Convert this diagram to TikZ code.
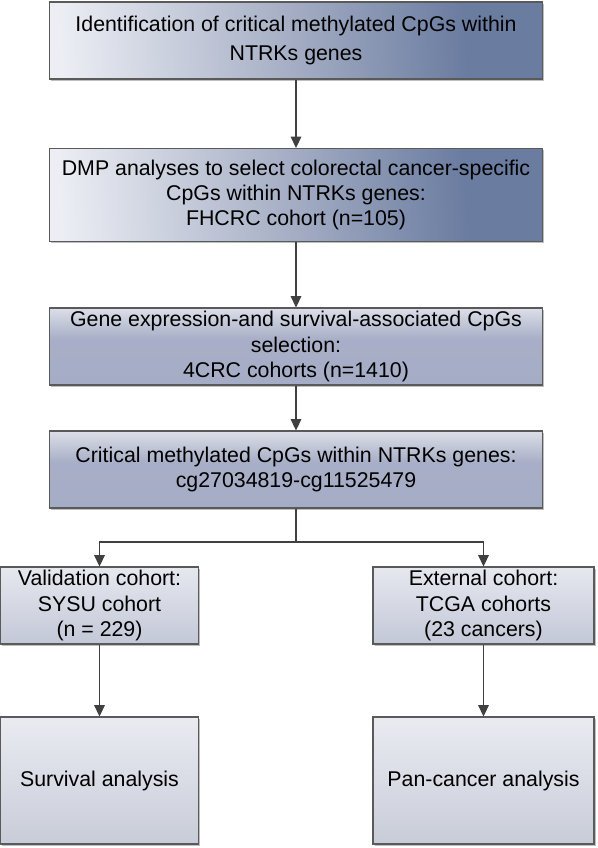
\documentclass[tikz,border=0pt]{standalone}
\usepackage{fontspec}
\setmainfont{Liberation Sans}
\usetikzlibrary{arrows.meta,shadows}
\definecolor{lightA}{HTML}{ECEEF4}
\definecolor{darkA}{HTML}{6A7CA0}
\definecolor{midA}{HTML}{A3ACC3}
\definecolor{topB}{HTML}{DCDFE8}
\definecolor{botB}{HTML}{A5ACC5}
\definecolor{topC}{HTML}{E6E8EF}
\definecolor{botC}{HTML}{C3C8D7}
\definecolor{topD}{HTML}{EAEBF1}
\definecolor{midD}{HTML}{D9DCE5}
\definecolor{botD}{HTML}{C8CCD8}
\definecolor{edge}{HTML}{5A5A5A}
\definecolor{arrowc}{HTML}{404040}
\pgfdeclarehorizontalshading{gradA}{100bp}{color(0bp)=(lightA); color(25bp)=(lightA); color(50bp)=(midA); color(68bp)=(darkA); color(100bp)=(darkA)}
\pgfdeclareverticalshading{gradB}{100bp}{color(0bp)=(botB); color(25bp)=(botB); color(55bp)=(botB!95!topB); color(75bp)=(topB); color(100bp)=(topB)}
\pgfdeclareverticalshading{gradC}{100bp}{color(0bp)=(botC); color(25bp)=(botC); color(75bp)=(topC); color(100bp)=(topC)}
\pgfdeclareverticalshading{gradD}{100bp}{color(0bp)=(botD); color(25bp)=(botD); color(50bp)=(midD); color(75bp)=(topD); color(100bp)=(topD)}
\tikzset{
  box/.style={draw=edge, line width=0.8pt, rectangle, align=center, inner sep=0pt,
    font=\fontsize{16}{19}\selectfont,
    drop shadow={shadow xshift=1.2pt, shadow yshift=-1.2pt, fill=black, opacity=0.25}},
  boxA/.style={box, shading=gradA, shading angle=3},
  boxB/.style={box, shading=gradB},
  boxC/.style={box, shading=gradC},
  boxD/.style={box, shading=gradD},
  arr/.style={draw=arrowc, line width=0.8pt, -{Triangle[length=8.5pt,width=8pt]}},
  ln/.style={draw=arrowc, line width=0.8pt}
}
\begin{document}
\begin{tikzpicture}[x=0.75pt, y=-0.75pt]
\useasboundingbox (0,0) rectangle (598,848);
\node[boxA, minimum width=370pt, minimum height=57.75pt, font=\fontsize{16}{21.4}\selectfont] (b1) at (296,40.5)
  {Identification of critical methylated CpGs within\\NTRKs genes};
\node[boxA, minimum width=370pt, minimum height=69.75pt] (b2) at (296,195)
  {DMP analyses to select colorectal cancer-specific\\CpGs within NTRKs genes:\\FHCRC cohort (n=105)};
\node[boxB, minimum width=370pt, minimum height=57.75pt] (b3) at (296,346.5)
  {Gene expression-and survival-associated CpGs\\selection:\\4CRC cohorts (n=1410)};
\node[boxB, minimum width=370pt, minimum height=57.75pt] (b4) at (296,469.5)
  {Critical methylated CpGs within NTRKs genes:\\cg27034819-cg11525479};
\node[boxC, minimum width=148pt, minimum height=57.75pt] (b5l) at (99.5,605.5)
  {Validation cohort:\\SYSU cohort\\(n = 229)};
\node[boxC, minimum width=165.75pt, minimum height=57.75pt] (b5r) at (483.5,605.5)
  {External cohort:\\TCGA cohorts\\(23 cancers)};
\node[boxD, minimum width=148pt, minimum height=95.25pt] (b6l) at (99.5,780.5)
  {Survival analysis};
\node[boxD, minimum width=165.75pt, minimum height=95.25pt] (b6r) at (483.5,780.5)
  {Pan-cancer analysis};
\coordinate (br) at (296,542);
\draw[arr] (b1.south) -- (b2.north);
\draw[arr] (b2.south) -- (b3.north);
\draw[arr] (b3.south) -- (b4.north);
\draw[ln] (b4.south) -- (br);
\draw[arr] (br) -| (b5l.north);
\draw[arr] (br) -| (b5r.north);
\draw[arr] (b5l.south) -- (b6l.north);
\draw[arr] (b5r.south) -- (b6r.north);
\end{tikzpicture}
\end{document}
